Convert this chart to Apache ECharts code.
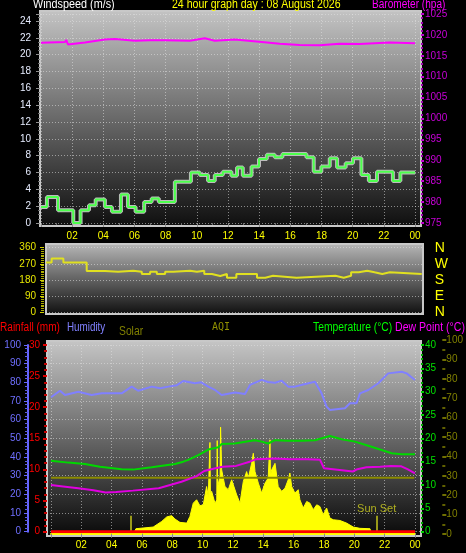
<!DOCTYPE html>
<html><head><meta charset="utf-8">
<script src="https://cdn.jsdelivr.net/npm/echarts@6/dist/echarts.min.js"></script>
<style>html,body{margin:0;padding:0;background:#000;}#c{width:466px;height:553px;}</style>
</head><body><div id="c"></div>
<script>
// ---------- data ----------
const hourTicks = [2,4,6,8,10,12,14,16,18,20,22,24];
const windHours = [0,0.38,1.09,2.07,2.54,3.08,3.51,4.10,4.55,5.13,5.58,6.07,6.62,7.10,7.56,8.59,9.62,10.19,10.72,11.15,11.67,12.22,12.58,12.95,13.51,13.99,14.49,15.0,15.49,17.03,17.5,17.99,18.53,19.0,19.55,20.02,20.56,21.04,21.56,22.58,23.06,24];
const windValues = [1.9,3.1,1.5,0,1.5,2.1,2.8,1.9,1.35,3.4,1.9,1.35,2.5,2.9,2.5,4.9,6.0,5.7,5.0,5.7,6.1,5.6,6.6,5.6,6.7,7.6,8.1,7.8,8.2,7.8,6.1,6.7,7.7,6.6,7.1,7.7,5.7,5.0,6.1,5.0,6.0,6.0];
const baroHours = [0,1.54,1.62,1.73,2.82,4.10,4.74,6.03,6.99,7.95,9.55,10.51,11.15,12.44,14.17,15.32,16.60,17.88,19.17,20.45,22.37,24];
const baroValues = [1018.1,1018.3,1018.8,1017.7,1018.2,1018.9,1019.0,1018.6,1018.7,1018.7,1018.6,1019.2,1018.6,1018.9,1018.3,1017.9,1017.6,1017.5,1017.9,1017.8,1018.2,1018.0];
const dirHours = [0,0.36,1.11,2.60,3.77,4.61,5.57,6.12,6.65,7.08,7.61,8.13,9.21,9.64,10.11,10.60,11.13,11.56,12.16,13.48,14.01,14.50,16.0,18.49,19.02,19.49,19.98,20.52,20.99,21.48,21.96,24];
const dirValues = [277,300,277,230,225,231,225,213,225,213,225,231,225,231,213,202,213,192,213,192,203,192,203,192,203,222,231,222,213,222,213,213];
const compassLabels = {0:'N',90:'E',180:'S',270:'W',360:'N'};
const humHours = [0,0.59,0.92,1.80,2.68,3.34,4.66,5.32,5.75,6.64,7.20,7.73,8.30,8.72,9.49,9.90,10.37,10.80,11.25,12.13,12.79,13.12,13.89,14.30,14.77,15.21,15.64,16.08,16.70,17.40,17.84,18.17,18.39,19.38,19.71,20.15,20.37,20.92,21.58,22.23,23.12,23.45,24];
const humValues = [72.0,75.5,73.2,75.0,73.2,74.1,74.1,77.7,75.5,77.7,76.8,77.7,78.5,80.7,79.5,80.0,77.7,76.0,73.2,74.5,73.8,78.6,81.3,80.2,79.8,80.9,77.7,77.7,79.0,80.3,74.1,67.0,65.2,66.1,68.8,68.8,74.1,75.9,79.5,84.8,85.7,84.8,81.3];
const tempHours = [0,1.14,2.24,3.23,4.66,5.41,6.64,8.17,8.72,9.05,9.71,10.37,11.03,11.25,12.13,13.0,13.45,13.89,14.32,14.77,15.64,16.53,17.40,18.39,19.16,20.04,20.92,21.80,22.46,23.12,24];
const tempValues = [15.2,14.8,14.5,13.9,13.4,13.3,13.8,14.5,15.0,15.4,16.4,17.6,18.1,18.8,18.9,19.4,19.6,19.3,18.9,19.6,19.5,19.5,19.6,20.5,19.8,19.3,18.4,17.5,16.8,16.6,16.6];
const dewHours = [0,0.8,1.8,2.8,3.6,4.3,5.4,7.1,8.6,9.6,10.1,10.7,11.3,12.2,13.1,13.5,14.8,15.7,16.9,17.74,18.0,18.6,19.9,20.2,20.8,21.7,22.4,23.1,23.5,24];
const dewValues = [10.0,9.7,9.3,8.9,8.4,8.5,8.8,9.3,10.7,11.9,13.0,13.5,13.9,14.1,15.0,15.5,15.7,15.5,15.5,15.4,13.6,13.4,12.9,13.4,13.8,13.9,14.1,14.0,13.4,12.5];
const solarHours = [5.5,5.60,6.74,7.30,7.63,7.96,8.17,8.50,8.95,9.16,9.38,9.60,9.82,10.04,10.26,10.37,10.45,10.48,10.51,10.59,10.81,10.93,10.96,10.99,11.07,11.15,11.18,11.22,11.25,11.47,11.69,11.91,12.02,12.24,12.46,12.68,12.90,13.01,13.23,13.34,13.45,13.67,13.89,14.11,14.32,14.40,14.44,14.47,14.55,14.77,14.98,15.21,15.43,15.64,15.75,15.87,16.08,16.30,16.41,16.63,16.86,17.07,17.29,17.52,17.73,17.95,18.17,18.39,18.61,19.05,19.49,19.93,20.37,21.03,21.1];
const solarValues = [0,16,25,55,79,86,68,50,46,82,153,171,139,144,242,189,190,478,200,216,153,170,488,240,242,300,560,440,332,242,225,278,287,198,153,269,322,287,366,420,322,260,207,260,287,290,492,300,332,366,242,216,233,278,314,242,207,225,171,127,162,153,118,144,135,91,127,73,64,60,46,25,18,16,0];
const rainHours = [0,24];
const rainValues = [0,0];
const aqiHours = [0,24];
const aqiValues = [29,29];
const sunRise = 5.25, sunSet = 21.47;

const zip = (a,b) => a.map((v,i)=>[v,b[i]]);
const pad2 = v => v===24 ? '00' : (v<10?'0'+v:''+v);
const FONT = 'Liberation Sans, Arial, sans-serif';

const bg = (c1,c2) => ({type:'linear',x:0,y:0,x2:0,y2:1,colorStops:[{offset:0,color:c1},{offset:1,color:c2}]});
const dotted = {show:true, lineStyle:{color:'rgba(225,225,225,0.55)', type:[1,2], width:1}};
const hiddenX = gi => ({gridIndex:gi, type:'value', min:0, max:1, show:false});
const hiddenY = gi => ({gridIndex:gi, type:'value', min:0, max:1, show:false});
const hlineY = (gi,min,max,iv) => ({gridIndex:gi, type:'value', min, max, interval:iv, axisLabel:{show:false}, axisTick:{show:false}, axisLine:{show:false}, splitLine:dotted});
const hlineX = gi => ({gridIndex:gi, type:'value', min:0, max:1, axisLabel:{show:false}, axisTick:{show:false}, axisLine:{show:false}, splitLine:{show:false}});
const plain = v => ''+v;
const txt = (x,y,text,fill,sx,font) => ({type:'text', x, y, scaleX:sx, style:{text, fill, font:font||('12px '+FONT)}});

const chart = echarts.init(document.getElementById('c'), null, {renderer:'canvas'});
chart.setOption({
  backgroundColor:'#000',
  animation:false,
  textStyle:{fontFamily:FONT},
  grid:[
    {left:40, top:11, width:381, height:215, show:true, backgroundColor:bg('#c4c4c4','#0e0e0e'), borderColor:'#c8c8c8', borderWidth:2}, //0 top frame
    {left:41, top:14, width:374, height:209}, //1 top data
    {left:40, top:14, width:381, height:209}, //2 top hlines
    {left:46, top:244, width:377, height:70, show:true, backgroundColor:bg('#b8b8b8','#0e0e0e'), borderColor:'#c8c8c8', borderWidth:2}, //3 mid frame
    {left:46, top:247.7, width:375.7, height:64.3}, //4 mid data
    {left:46, top:247.7, width:377, height:64.3}, //5 mid hlines
    {left:47, top:341, width:374, height:195, show:true, backgroundColor:bg('#c6c6c6','#080808'), borderColor:'#c8c8c8', borderWidth:2}, //6 bottom frame
    {left:51, top:345, width:364, height:186.7}, //7 bottom data
    {left:47, top:345, width:374, height:186.7}, //8 bottom hlines
    {left:51, top:340, width:364, height:194} //9 AQI
  ],
  xAxis:[
    hiddenX(0),
    {gridIndex:1, type:'value', min:0, max:24, interval:2, offset:3,
      axisLine:{show:false}, axisTick:{show:true, length:4, lineStyle:{color:'#8a8a8a'}},
      minorTick:{show:true, splitNumber:2, length:2, lineStyle:{color:'#6a6a6a'}},
      axisLabel:{color:'#ffff00', fontSize:10, margin:5, formatter:v => v===0?'':pad2(v)},
      splitLine:dotted},
    hlineX(2),
    hiddenX(3),
    {gridIndex:4, type:'value', min:0, max:24, show:false},
    hlineX(5),
    hiddenX(6),
    {gridIndex:7, type:'value', min:0, max:24, interval:2, offset:2,
      axisLine:{show:true, onZero:false, lineStyle:{color:'#ffff00', width:2}},
      axisTick:{show:true, length:4, lineStyle:{color:'#8a8a8a'}},
      axisLabel:{color:'#ffff00', fontSize:10, margin:7, formatter:v => v===0?'':pad2(v)},
      splitLine:dotted},
    hlineX(8),
    {gridIndex:9, type:'value', min:0, max:24, show:false}
  ],
  yAxis:[
    hiddenY(0),
    {gridIndex:1, type:'value', position:'left', min:0, max:24.83, interval:2, offset:1,
      axisLine:{show:false, onZero:false}, axisTick:{show:true, length:4, lineStyle:{color:'#909090'}},
      minorTick:{show:true, splitNumber:4, length:2, lineStyle:{color:'#707070'}},
      axisLabel:{color:'#e6ecff', fontSize:10, margin:9, showMaxLabel:false, formatter:plain}, splitLine:{show:false}},
    {gridIndex:1, type:'value', position:'right', min:975, max:1025, interval:5, offset:6,
      axisLine:{show:false, onZero:false}, axisTick:{show:true, length:3, lineStyle:{color:'#c000d0', width:2}},
      minorTick:{show:true, splitNumber:5, length:2, lineStyle:{color:'#a000b0', width:2}},
      axisLabel:{color:'#c800d8', fontSize:10, margin:4, formatter:plain}, splitLine:{show:false}},
    hlineY(2,0,24.83,2),
    hiddenY(3),
    {gridIndex:4, type:'value', position:'left', min:0, max:360, interval:90, offset:2,
      axisLine:{show:false, onZero:false}, axisTick:{show:true, length:4, lineStyle:{color:'#d0d000'}},
      minorTick:{show:true, splitNumber:9, length:3, lineStyle:{color:'#b0b000'}},
      axisLabel:{color:'#e8e800', fontSize:10, margin:8, formatter:plain}, splitLine:{show:false}},
    {gridIndex:4, type:'value', position:'right', min:0, max:360, interval:90,
      axisLine:{show:false, onZero:false}, axisTick:{show:false},
      axisLabel:{color:'#ffff00', fontSize:14, margin:13, formatter:v => compassLabels[v]||''}, splitLine:{show:false}},
    hlineY(5,0,360,90),
    hiddenY(6),
    {gridIndex:7, type:'value', position:'left', min:0, max:100, interval:10, offset:23,
      axisLine:{show:true, onZero:false, lineStyle:{color:'#6666ff', width:2}}, axisTick:{show:true, length:4, lineStyle:{color:'#6666ff'}},
      minorTick:{show:true, splitNumber:5, length:3, lineStyle:{color:'#5a5ae0'}},
      axisLabel:{color:'#6f6fff', fontSize:10, margin:7, formatter:plain}, splitLine:{show:false}},
    {gridIndex:7, type:'value', position:'left', min:0, max:30, interval:5, offset:4,
      axisLine:{show:false, onZero:false}, axisTick:{show:true, length:4, lineStyle:{color:'#e00000', width:2}},
      minorTick:{show:true, splitNumber:5, length:3, lineStyle:{color:'#c00000', width:2}},
      axisLabel:{color:'#ff0000', fontSize:10, margin:7, formatter:plain}, splitLine:{show:false}},
    {gridIndex:7, type:'value', position:'right', min:0, max:40, interval:5, offset:6,
      axisLine:{show:false, onZero:false}, axisTick:{show:true, length:3, lineStyle:{color:'#00d000', width:2}},
      minorTick:{show:true, splitNumber:5, length:2, lineStyle:{color:'#00b000', width:2}},
      axisLabel:{color:'#00e000', fontSize:10, margin:4, formatter:plain}, splitLine:{show:false}},
    {gridIndex:7, type:'value', min:0, max:1000, show:false},
    hlineY(8,0,100,10),
    {gridIndex:9, type:'value', position:'right', min:0, max:100, interval:10, offset:28,
      axisLine:{show:false, onZero:false}, axisTick:{show:true, length:4, lineStyle:{color:'#707000', width:2}},
      minorTick:{show:true, splitNumber:2, length:3, lineStyle:{color:'#606000', width:2}},
      axisLabel:{color:'#808000', fontSize:10, margin:4, formatter:plain}, splitLine:{show:false}}
  ],
  series:[
    {name:'wind outline', type:'line', xAxisIndex:1, yAxisIndex:1, step:'end', symbol:'none', data:zip(windHours,windValues), lineStyle:{color:'#bdbdbd', width:4}, z:3},
    {name:'Windspeed', type:'line', xAxisIndex:1, yAxisIndex:1, step:'end', symbol:'none', data:zip(windHours,windValues), lineStyle:{color:'#4cff4c', width:2}, z:4},
    {name:'Barometer', type:'line', xAxisIndex:1, yAxisIndex:2, symbol:'none', data:zip(baroHours,baroValues), lineStyle:{color:'#ff00ff', width:2}, z:4},
    {name:'Direction', type:'line', xAxisIndex:4, yAxisIndex:5, step:'end', symbol:'none', data:zip(dirHours,dirValues), lineStyle:{color:'#e0e020', width:2}, z:4},
    {name:'Solar', type:'line', xAxisIndex:7, yAxisIndex:12, symbol:'none', data:zip(solarHours,solarValues), lineStyle:{color:'#ffff00', width:1}, areaStyle:{color:'#ffff00', opacity:1}, z:3,
      markLine:{silent:true, symbol:'none', animation:false, lineStyle:{color:'#9a9a1a', width:2, type:'solid'}, label:{show:false},
        data:[
          [{coord:[sunRise,0]},{coord:[sunRise,85]}],
          [{coord:[sunSet,0], label:{show:true, position:'end', distance:1, formatter:'Sun Set', color:'#b0b020', fontSize:11, fontFamily:FONT}},{coord:[sunSet,85]}]
        ]}},
    {name:'AQI', type:'line', xAxisIndex:9, yAxisIndex:14, symbol:'none', data:zip(aqiHours,aqiValues), lineStyle:{color:'#8a8a00', width:2}, z:4},
    {name:'Humidity', type:'line', xAxisIndex:7, yAxisIndex:9, symbol:'none', data:zip(humHours,humValues), lineStyle:{color:'#8080ff', width:2}, z:5},
    {name:'Temperature', type:'line', xAxisIndex:7, yAxisIndex:11, symbol:'none', data:zip(tempHours,tempValues), lineStyle:{color:'#00d800', width:2}, z:5},
    {name:'Dew Point', type:'line', xAxisIndex:7, yAxisIndex:11, symbol:'none', data:zip(dewHours,dewValues), lineStyle:{color:'#e000e0', width:2}, z:5},
    {name:'Rainfall', type:'line', xAxisIndex:7, yAxisIndex:10, symbol:'none', data:zip(rainHours,rainValues), lineStyle:{color:'#ff0000', width:3}, z:6}
  ],
  graphic:[
    txt(33,-1,'Windspeed (m/s)','#ffffff',0.9),
    txt(172,-1,'24 hour graph day : 08 August 2026','#ffff00',0.88),
    txt(372,-1,'Barometer (hpa)','#ff00ff',0.84),
    txt(0,322,'Rainfall (mm)','#ff0000',0.84),
    txt(67,322,'Humidity','#8080ff',0.82),
    txt(119,326,'Solar','#808000',0.86),
    txt(212,322,'AQI','#909000',1,'10px DejaVu Sans Mono, monospace'),
    txt(313,322,'Temperature (°C)','#00ff00',0.86),
    txt(395,322,'Dew Point (°C)','#ff00ff',0.88)
  ]
});
</script></body></html>
